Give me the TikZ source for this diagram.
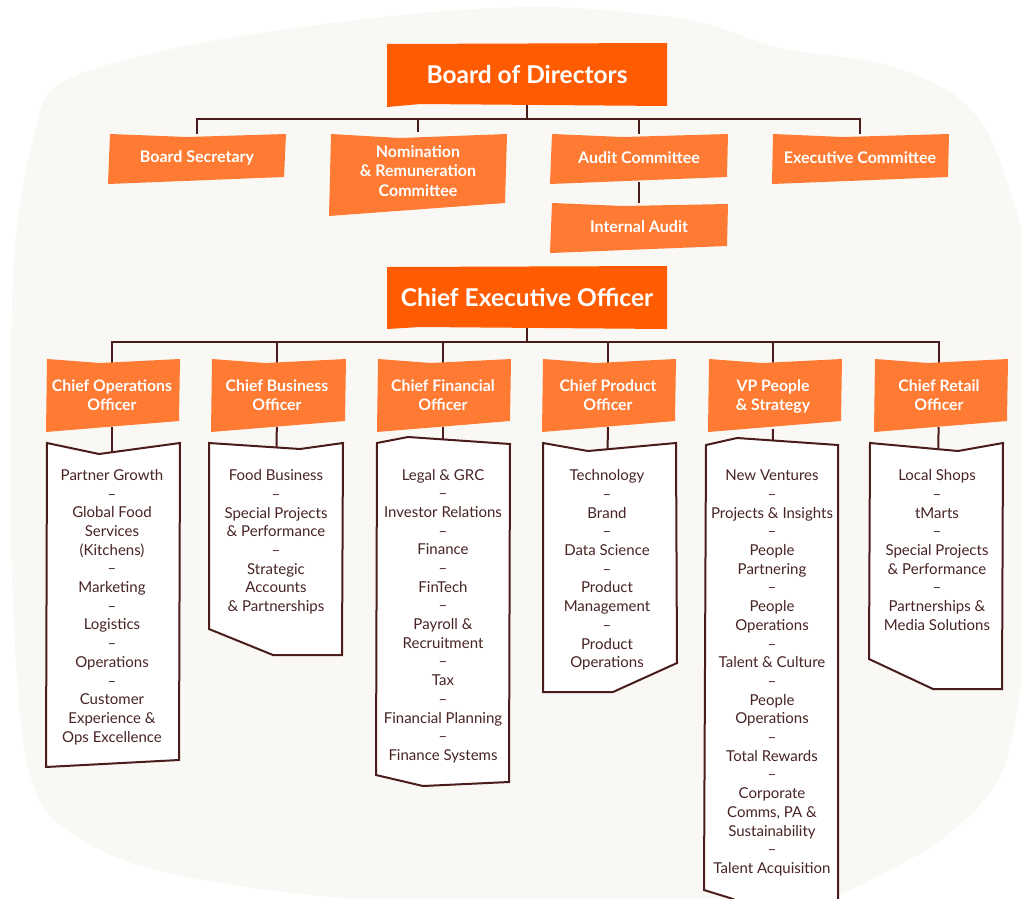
\documentclass[tikz,border=0pt]{standalone}
\usepackage{fontspec}
\setmainfont{Lato}
\usepackage{tikz}
\usetikzlibrary{backgrounds}
\definecolor{ffblob}{RGB}{249,248,244}
\definecolor{ffdeep}{RGB}{255,91,0}
\definecolor{fforange}{RGB}{255,123,51}
\definecolor{ffbrown}{RGB}{74,28,28}
\definecolor{ffink}{RGB}{72,36,36}

\begin{document}
\begin{tikzpicture}[x=1pt, y=-1pt,
  chair/.style={font=\bfseries\fontsize{24.5}{28}\selectfont, text=white, minimum width=280, minimum height=62},
  unit/.style={font=\bfseries\fontsize{16}{19.5}\selectfont, text=white, align=center, minimum width=176, minimum height=48},
  officer/.style={font=\bfseries\fontsize{15.8}{19}\selectfont, text=white, align=center, minimum width=133, minimum height=64},
  dept/.style={font=\fontsize{15}{18.7}\selectfont, text=ffink, align=center, inner sep=0pt},
  deepfill/.style={fill=ffdeep},
  unitfill/.style={fill=fforange},
  listframe/.style={draw=ffbrown, line width=2pt, fill=white, line join=miter},
  link/.style={draw=ffbrown, line width=2pt}
]
  \useasboundingbox (0,0) rectangle (1021,898);

  % board level
  \fill[deepfill] (387,44) -- (667,43) -- (667,106) -- (420,104) -- (387,107) -- cycle;
  \node[chair] (bod) at (527,74) {Board of Directors};

  \fill[unitfill] (110,134) -- (187,137) -- (286,134) -- (284,177) -- (108,184) -- cycle;
  \node[unit] (sec) at (197,158) {Board Secretary};

  \fill[unitfill] (331,134) -- (400,138) -- (507,134) -- (505,203) -- (329,216) -- cycle;
  \node[unit, minimum height=78] (nom) at (418,171) {Nomination\\\& Remuneration\\Committee};

  \fill[unitfill] (552,134) -- (623,137) -- (728,134) -- (727,177) -- (550,184) -- cycle;
  \node[unit] (aud) at (639,158) {Audit Committee};

  \fill[unitfill] (552,203) -- (623,206) -- (728,204) -- (727,246) -- (550,253) -- cycle;
  \node[unit] (iaud) at (639,227) {Internal Audit};

  \fill[unitfill] (773,134) -- (843,137) -- (949,134) -- (948,177) -- (772,184) -- cycle;
  \node[unit] (exec) at (860,158) {Executive Committee};

  % executive level
  \fill[deepfill] (387,267) -- (667,266) -- (667,329) -- (420,327) -- (387,329) -- cycle;
  \node[chair] (ceo) at (527,297) {Chief Executive Officer};

  \fill[unitfill] (47,359) -- (100,363) -- (180,359) -- (179,421) -- (46,432) -- cycle;
  \node[officer] (coo) at (112,395) {Chief Operations\\Officer};

  \fill[unitfill] (212,359) -- (265,363) -- (346,359) -- (345,421) -- (211,432) -- cycle;
  \node[officer] (cbo) at (277,395) {Chief Business\\Officer};

  \fill[unitfill] (378,359) -- (431,363) -- (511,359) -- (510,421) -- (377,432) -- cycle;
  \node[officer] (cfo) at (443,395) {Chief Financial\\Officer};

  \fill[unitfill] (543,359) -- (596,363) -- (676,359) -- (675,421) -- (542,432) -- cycle;
  \node[officer] (cpo) at (608,395) {Chief Product\\Officer};

  \fill[unitfill] (709,359) -- (762,363) -- (842,359) -- (841,421) -- (708,432) -- cycle;
  \node[officer] (vpp) at (773,397) {VP People\\\& Strategy};

  \fill[unitfill] (875,359) -- (928,363) -- (1008,359) -- (1007,421) -- (874,432) -- cycle;
  \node[officer] (cro) at (939,395) {Chief Retail\\Officer};

  % departments under each officer
  \draw[listframe] (47,443) -- (99,454) -- (180,443) -- (179,760) -- (46,767) -- cycle;
  \node[dept] (coolist) at (112,607) {Partner Growth\\–\\Global Food\\Services\\(Kitchens)\\–\\Marketing\\–\\Logistics\\–\\Operations\\–\\Customer\\Experience \&\\Ops Excellence};

  \draw[listframe] (209,443) -- (300,449) -- (343,443) -- (342,655) -- (273,655) -- (209,629) -- cycle;
  \node[dept] (cbolist) at (276,542) {Food Business\\–\\Special Projects\\\& Performance\\–\\Strategic\\Accounts\\\& Partnerships};

  \draw[listframe] (377,443) -- (408,437) -- (510,444) -- (509,782) -- (423,786) -- (376,775) -- cycle;
  \node[dept] (cfolist) at (443,616) {Legal \& GRC\\–\\Investor Relations\\–\\Finance\\–\\FinTech\\–\\Payroll \&\\Recruitment\\–\\Tax\\–\\Financial Planning\\–\\Finance Systems};

  \draw[listframe] (543,443) -- (588,451) -- (676,443) -- (677,663) -- (613,692) -- (543,692) -- cycle;
  \node[dept] (cpolist) at (607,570) {Technology\\–\\Brand\\–\\Data Science\\–\\Product\\Management\\–\\Product\\Operations};

  \begin{scope}
    \clip (0,0) rectangle (1021,898);
    \draw[listframe] (706,445) -- (737,438) -- (838,445) -- (838,910) -- (760,910) -- (730,898) -- (704,890) -- cycle;
  \end{scope}
  \node[dept] (vpplist) at (772,673) {New Ventures\\–\\Projects \& Insights\\–\\People\\Partnering\\–\\People\\Operations\\–\\Talent \& Culture\\–\\People\\Operations\\–\\Total Rewards\\–\\Corporate\\Comms, PA \&\\Sustainability\\–\\Talent Acquisition};

  \draw[listframe] (870,443) -- (958,451) -- (1003,443) -- (1002,689) -- (933,689) -- (869,659) -- cycle;
  \node[dept] (crolist) at (937,550) {Local Shops\\–\\tMarts\\–\\Special Projects\\\& Performance\\–\\Partnerships \&\\Media Solutions};

  \begin{pgfonlayer}{background}
    % soft backdrop
    \begin{scope}
      \clip (0,0) rectangle (1021,898);
      \fill[ffblob] plot[smooth cycle] coordinates {(400,15) (550,7) (690,20) (780,48) (880,63) (947,90) (985,128) (1013,200) (1035,300) (1040,500) (1028,640) (1003,770) (950,833) (880,875) (800,905) (600,915) (400,903) (267,890) (167,873) (100,850) (43,807) (20,717) (10,500) (14,260) (33,140) (62,82) (200,43)};
    \end{scope}

    % reporting lines
    \draw[link] (bod.south) -- ++(0,14) -| (sec.north);
    \draw[link] (bod.south) -- ++(0,14) -| (nom.north);
    \draw[link] (bod.south) -- ++(0,14) -| (aud.north);
    \draw[link] (bod.south) -- ++(0,14) -| (exec.north);
    \draw[link] (aud) -- (iaud);

    \draw[link] (ceo.south) -- ++(0,14) -| (coo.north);
    \draw[link] (ceo.south) -- ++(0,14) -| (cbo.north);
    \draw[link] (ceo.south) -- ++(0,14) -| (cfo.north);
    \draw[link] (ceo.south) -- ++(0,14) -| (cpo.north);
    \draw[link] (ceo.south) -- ++(0,14) -| (vpp.north);
    \draw[link] (ceo.south) -- ++(0,14) -| (cro.north);

    \draw[link] (coo) -- (coolist);
    \draw[link] (cbo) -- (cbolist);
    \draw[link] (cfo) -- (cfolist);
    \draw[link] (cpo) -- (cpolist);
    \draw[link] (vpp) -- (vpplist);
    \draw[link] (cro) -- (crolist);
  \end{pgfonlayer}
\end{tikzpicture}
\end{document}
